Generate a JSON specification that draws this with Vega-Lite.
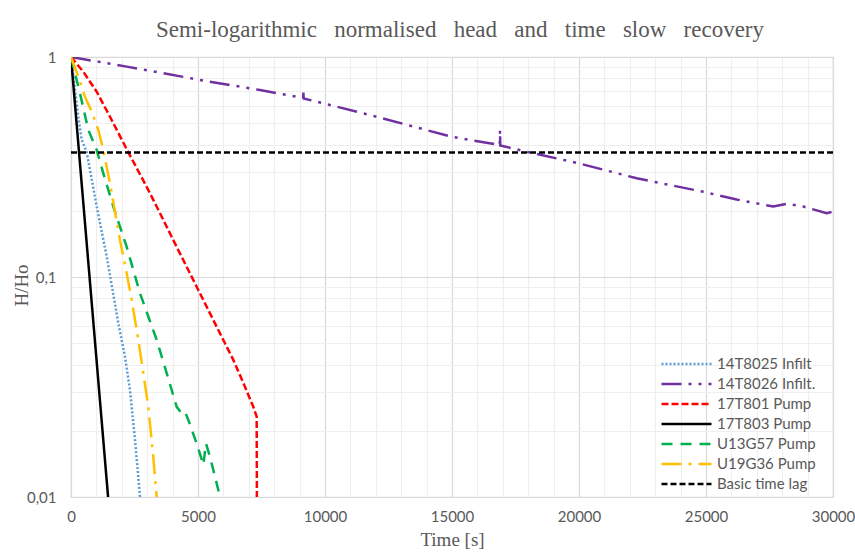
{
  "$schema": "https://vega.github.io/schema/vega-lite/v6.json",
  "width": 762,
  "height": 440,
  "autosize": {"type": "none"},
  "padding": {"left": 71, "top": 57, "right": 22, "bottom": 57},
  "background": "white",
  "title": {
    "text": "Semi-logarithmic\u00a0\u00a0 normalised\u00a0\u00a0 head\u00a0\u00a0 and\u00a0\u00a0 time\u00a0\u00a0 slow\u00a0\u00a0 recovery",
    "font": "Liberation Serif",
    "fontSize": 23,
    "fontWeight": "normal",
    "color": "#595959",
    "anchor": "middle",
    "offset": 8,
    "dx": 8
  },
  "config": {
    "view": {"stroke": "#d9d9d9", "strokeWidth": 1.2},
    "axis": {
      "labelFont": "Lato",
      "labelFontSize": 15,
      "labelColor": "#595959",
      "titleFont": "Liberation Serif",
      "titleFontSize": 19,
      "titleFontWeight": "normal",
      "titleColor": "#595959",
      "ticks": false,
      "domain": false,
      "labelOverlap": false,
      "labelFlush": false
    },
    "legend": {
      "labelFont": "Lato",
      "labelFontSize": 15,
      "labelColor": "#595959"
    }
  },
  "data": {
    "values": [
      {"series": "14T8025 Infilt", "t": 0, "h": 1},
      {"series": "14T8025 Infilt", "t": 157, "h": 0.708},
      {"series": "14T8025 Infilt", "t": 287, "h": 0.535},
      {"series": "14T8025 Infilt", "t": 421, "h": 0.42},
      {"series": "14T8025 Infilt", "t": 618, "h": 0.37},
      {"series": "14T8025 Infilt", "t": 1012, "h": 0.209},
      {"series": "14T8025 Infilt", "t": 1405, "h": 0.124},
      {"series": "14T8025 Infilt", "t": 1862, "h": 0.0618},
      {"series": "14T8025 Infilt", "t": 2126, "h": 0.0434},
      {"series": "14T8025 Infilt", "t": 2323, "h": 0.0306},
      {"series": "14T8025 Infilt", "t": 2520, "h": 0.0182},
      {"series": "14T8025 Infilt", "t": 2717, "h": 0.01},

      {"series": "14T8026 Infilt.", "t": 0, "h": 1},
      {"series": "14T8026 Infilt.", "t": 2193, "h": 0.904},
      {"series": "14T8026 Infilt.", "t": 5472, "h": 0.772},
      {"series": "14T8026 Infilt.", "t": 7441, "h": 0.708},
      {"series": "14T8026 Infilt.", "t": 9140, "h": 0.651},
      {"series": "14T8026 Infilt.", "t": 9150, "h": 0.689},
      {"series": "14T8026 Infilt.", "t": 9160, "h": 0.648},
      {"series": "14T8026 Infilt.", "t": 11772, "h": 0.545},
      {"series": "14T8026 Infilt.", "t": 14988, "h": 0.434},
      {"series": "14T8026 Infilt.", "t": 16880, "h": 0.398},
      {"series": "14T8026 Infilt.", "t": 16890, "h": 0.466},
      {"series": "14T8026 Infilt.", "t": 16900, "h": 0.396},
      {"series": "14T8026 Infilt.", "t": 17940, "h": 0.371},
      {"series": "14T8026 Infilt.", "t": 19972, "h": 0.329},
      {"series": "14T8026 Infilt.", "t": 22272, "h": 0.281},
      {"series": "14T8026 Infilt.", "t": 24894, "h": 0.244},
      {"series": "14T8026 Infilt.", "t": 26207, "h": 0.225},
      {"series": "14T8026 Infilt.", "t": 27650, "h": 0.209},
      {"series": "14T8026 Infilt.", "t": 28175, "h": 0.215},
      {"series": "14T8026 Infilt.", "t": 28831, "h": 0.209},
      {"series": "14T8026 Infilt.", "t": 29751, "h": 0.195},
      {"series": "14T8026 Infilt.", "t": 30000, "h": 0.198},

      {"series": "17T801 Pump", "t": 0, "h": 1},
      {"series": "17T801 Pump", "t": 484, "h": 0.857},
      {"series": "17T801 Pump", "t": 1012, "h": 0.695},
      {"series": "17T801 Pump", "t": 1535, "h": 0.535},
      {"series": "17T801 Pump", "t": 2257, "h": 0.369},
      {"series": "17T801 Pump", "t": 2979, "h": 0.257},
      {"series": "17T801 Pump", "t": 3504, "h": 0.195},
      {"series": "17T801 Pump", "t": 4161, "h": 0.137},
      {"series": "17T801 Pump", "t": 4948, "h": 0.0903},
      {"series": "17T801 Pump", "t": 5735, "h": 0.0594},
      {"series": "17T801 Pump", "t": 6390, "h": 0.042},
      {"series": "17T801 Pump", "t": 6850, "h": 0.0317},
      {"series": "17T801 Pump", "t": 7177, "h": 0.0257},
      {"series": "17T801 Pump", "t": 7310, "h": 0.0232},
      {"series": "17T801 Pump", "t": 7320, "h": 0.008},

      {"series": "17T803 Pump", "t": 0, "h": 1},
      {"series": "17T803 Pump", "t": 730, "h": 0.1},
      {"series": "17T803 Pump", "t": 1460, "h": 0.01},

      {"series": "U13G57 Pump", "t": 0, "h": 1},
      {"series": "U13G57 Pump", "t": 157, "h": 0.843},
      {"series": "U13G57 Pump", "t": 354, "h": 0.684},
      {"series": "U13G57 Pump", "t": 682, "h": 0.466},
      {"series": "U13G57 Pump", "t": 1012, "h": 0.378},
      {"series": "U13G57 Pump", "t": 1272, "h": 0.296},
      {"series": "U13G57 Pump", "t": 1666, "h": 0.209},
      {"series": "U13G57 Pump", "t": 2193, "h": 0.137},
      {"series": "U13G57 Pump", "t": 2717, "h": 0.0843},
      {"series": "U13G57 Pump", "t": 3373, "h": 0.0518},
      {"series": "U13G57 Pump", "t": 3767, "h": 0.0366},
      {"series": "U13G57 Pump", "t": 4161, "h": 0.0257},
      {"series": "U13G57 Pump", "t": 4358, "h": 0.024},
      {"series": "U13G57 Pump", "t": 4488, "h": 0.0244},
      {"series": "U13G57 Pump", "t": 4619, "h": 0.0224},
      {"series": "U13G57 Pump", "t": 4948, "h": 0.0175},
      {"series": "U13G57 Pump", "t": 5210, "h": 0.014},
      {"series": "U13G57 Pump", "t": 5315, "h": 0.0175},
      {"series": "U13G57 Pump", "t": 5472, "h": 0.0152},
      {"series": "U13G57 Pump", "t": 5669, "h": 0.0124},
      {"series": "U13G57 Pump", "t": 5866, "h": 0.01},

      {"series": "U19G36 Pump", "t": 0, "h": 1},
      {"series": "U19G36 Pump", "t": 287, "h": 0.814},
      {"series": "U19G36 Pump", "t": 551, "h": 0.66},
      {"series": "U19G36 Pump", "t": 815, "h": 0.564},
      {"series": "U19G36 Pump", "t": 1075, "h": 0.466},
      {"series": "U19G36 Pump", "t": 1272, "h": 0.378},
      {"series": "U19G36 Pump", "t": 1535, "h": 0.267},
      {"series": "U19G36 Pump", "t": 1929, "h": 0.147},
      {"series": "U19G36 Pump", "t": 2193, "h": 0.104},
      {"series": "U19G36 Pump", "t": 2390, "h": 0.0786},
      {"series": "U19G36 Pump", "t": 2650, "h": 0.0518},
      {"series": "U19G36 Pump", "t": 2847, "h": 0.0366},
      {"series": "U19G36 Pump", "t": 3043, "h": 0.0257},
      {"series": "U19G36 Pump", "t": 3240, "h": 0.0152},
      {"series": "U19G36 Pump", "t": 3373, "h": 0.01},

      {"series": "Basic time lag", "t": 0, "h": 0.368},
      {"series": "Basic time lag", "t": 30000, "h": 0.368}
    ]
  },
  "mark": {"type": "line", "strokeWidth": 2.5, "clip": true},
  "encoding": {
    "x": {
      "field": "t",
      "type": "quantitative",
      "title": "Time [s]",
      "scale": {"domain": [0, 30000], "nice": false},
      "axis": {
        "values": [0,1000,2000,3000,4000,5000,6000,7000,8000,9000,10000,11000,12000,13000,14000,15000,16000,17000,18000,19000,20000,21000,22000,23000,24000,25000,26000,27000,28000,29000,30000],
        "labelExpr": "datum.value % 5000 === 0 ? datum.value : ''",
        "format": "d",
        "labelPadding": 12,
        "titlePadding": 6,
        "gridColor": {"condition": {"test": "datum.value % 5000 === 0", "value": "#d9d9d9"}, "value": "#efefef"},
        "gridWidth": 1.2
      }
    },
    "y": {
      "field": "h",
      "type": "quantitative",
      "title": "H/Ho",
      "scale": {"type": "log", "domain": [0.01, 1], "nice": false},
      "axis": {
        "values": [0.01,0.02,0.03,0.04,0.05,0.06,0.07,0.08,0.09,0.1,0.2,0.3,0.4,0.5,0.6,0.7,0.8,0.9,1],
        "labelExpr": "datum.value === 1 ? '1' : datum.value === 0.1 ? '0,1' : datum.value === 0.01 ? '0,01' : ''",
        "labelPadding": 15,
        "gridColor": {"condition": {"test": "datum.value === 1 || datum.value === 0.1 || datum.value === 0.01", "value": "#d9d9d9"}, "value": "#efefef"},
        "gridWidth": 1.2,
        "titleX": -50,
        "titleY": 228,
        "titleAngle": -90,
        "titleBaseline": "middle",
        "titleAlign": "center"
      }
    },
    "color": {
      "field": "series",
      "type": "nominal",
      "title": null,
      "scale": {
        "domain": ["14T8025 Infilt", "14T8026 Infilt.", "17T801 Pump", "17T803 Pump", "U13G57 Pump", "U19G36 Pump", "Basic time lag"],
        "range": ["#5B9BD5", "#7030A0", "#FF0000", "#000000", "#00B050", "#FFC000", "#000000"]
      },
      "legend": {
        "orient": "none",
        "legendX": 589,
        "legendY": 297,
        "symbolType": "stroke",
        "symbolSize": 2500,
        "symbolStrokeWidth": 2.5,
        "clipHeight": 20,
        "rowPadding": 0,
        "labelOffset": 4,
        "padding": 0
      }
    },
    "strokeDash": {
      "field": "series",
      "type": "nominal",
      "title": null,
      "scale": {
        "domain": ["14T8025 Infilt", "14T8026 Infilt.", "17T801 Pump", "17T803 Pump", "U13G57 Pump", "U19G36 Pump", "Basic time lag"],
        "range": [[2, 2], [20, 7, 3, 7, 3, 7], [7, 3], [1, 0], [11, 8], [20, 7, 3, 7], [6, 3]]
      },
      "legend": {
        "orient": "none",
        "legendX": 589,
        "legendY": 297,
        "symbolType": "stroke",
        "symbolSize": 2500,
        "symbolStrokeWidth": 2.5,
        "clipHeight": 20,
        "rowPadding": 0,
        "labelOffset": 4,
        "padding": 0
      }
    }
  }
}
